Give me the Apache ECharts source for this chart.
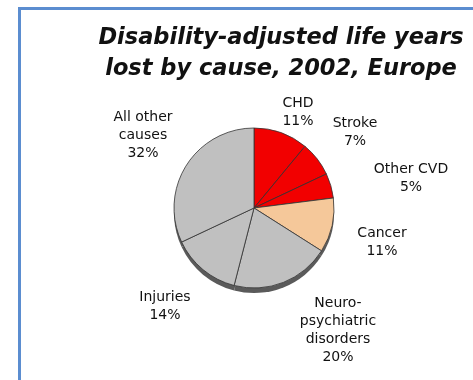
<!DOCTYPE html>
<html>
<head>
<meta charset="utf-8">
<script src="https://cdn.jsdelivr.net/npm/echarts@6/dist/echarts.min.js"></script>
<style>
html,body{margin:0;padding:0;background:#fff;}
#frame{position:absolute;left:18px;top:7px;width:470px;height:390px;border-top:3px solid #5b8dd0;border-left:3px solid #5b8dd0;}
#c{position:absolute;left:0;top:0;width:473px;height:380px;}
</style>
</head>
<body>
<div id="frame"></div>
<div id="c"></div>
<script>
var titleLines = ['Disability-adjusted life years', 'lost by cause, 2002, Europe'];
var categories = ['CHD', 'Stroke', 'Other CVD', 'Cancer', 'Neuro-\npsychiatric\ndisorders', 'Injuries', 'All other\ncauses'];
var values = [11, 7, 5, 11, 20, 14, 32];
var colors = ['#f20000', '#f20000', '#f20000', '#f5c89a', '#c0c0c0', '#c0c0c0', '#c0c0c0'];
// label anchor positions (layout only)
var labelPos = [[298,103],[355,123],[411,169],[382,233],[338,303],[165,297],[143,117]];

var chart = echarts.init(document.getElementById('c'));
var data = categories.map(function(n, i){ return {name: n, value: values[i], itemStyle:{color: colors[i]}}; });
chart.setOption({
  animation: false,
  title: {
    text: titleLines.join('\n'),
    left: 276, top: 18, textAlign: 'center',
    textStyle: {fontFamily: 'DejaVu Sans', fontStyle: 'italic', fontWeight: 'bold', fontSize: 22.5, lineHeight: 31, color: '#111'}
  },
  series: [
    {
      type: 'pie', silent: true, center: [254, 213], radius: 80, startAngle: 90, clockwise: true,
      data: values.map(function(v){ return {value: v}; }),
      itemStyle: {color: '#5a5a5a', borderWidth: 0},
      label: {show: false}, labelLine: {show: false}, z: 1
    },
    {
      type: 'pie', center: [254, 208], radius: 80, startAngle: 90, clockwise: true,
      data: data,
      itemStyle: {borderColor: '#333', borderWidth: 0.8},
      label: {
        show: true, position: 'outside',
        formatter: function(p){ return p.name + '\n' + p.value + '%'; },
        fontFamily: 'DejaVu Sans', fontSize: 14, lineHeight: 18, color: '#111', align: 'center'
      },
      labelLine: {show: false},
      labelLayout: function(p){
        var pos = labelPos[p.dataIndex];
        return {x: pos[0], y: pos[1] - 9, align: 'center', verticalAlign: 'top'};
      },
      z: 2
    }
  ]
});
</script>
</body>
</html>
